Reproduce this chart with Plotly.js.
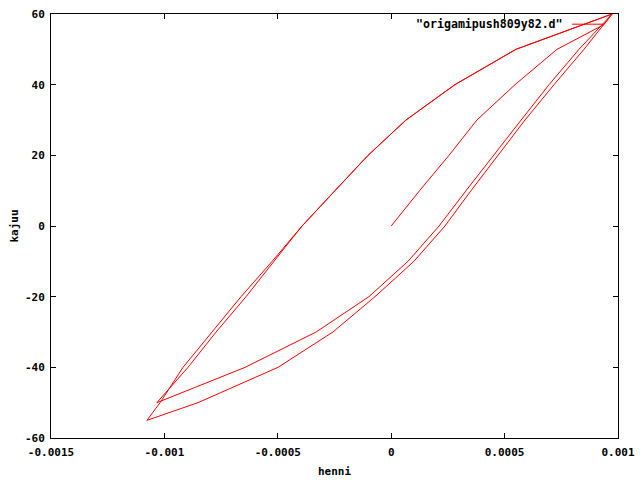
<!DOCTYPE html>
<html>
<head>
<meta charset="utf-8">
<script src="https://cdn.plot.ly/plotly-3.0.1.min.js"></script>
<style>html,body{margin:0;padding:0;background:#fff;}#chart{width:640px;height:480px;}</style>
</head>
<body>
<div id="chart"></div>
<script>
// Initial loading
const loadX = [0, 0.000125, 0.000255, 0.000378, 0.000546, 0.000731, 0.000938, 0.000974];
const loadY = [0, 10, 20, 30, 40, 50, 57, 60];
// First unloading (to -50)
const unload1X = [0.000974, 0.00055, 0.000281, 0.0000653, -0.000102, -0.000248, -0.000393, -0.000517, -0.00064, -0.000772, -0.000896, -0.001033];
const unload1Y = [60, 50, 40, 30, 20, 10, 0, -10, -20, -30, -40, -50];
// First reloading (from -50)
const reload1X = [-0.001033, -0.000644, -0.000331, -0.000098, 0.000074, 0.000211, 0.00033, 0.00045, 0.000573, 0.000696, 0.000828, 0.000974];
const reload1Y = [-50, -40, -30, -20, -10, 0, 10, 20, 30, 40, 50, 60];
// Second unloading (to -55)
const unload2X = [0.000974, 0.00055, 0.000281, 0.0000653, -0.000102, -0.000248, -0.000393, -0.000525, -0.000662, -0.00079, -0.000918, -0.001019, -0.001077];
const unload2Y = [60, 50, 40, 30, 20, 10, 0, -10, -20, -30, -40, -50, -55];
// Second reloading (from -55)
const reload2X = [-0.001077, -0.000852, -0.000499, -0.000257, -0.0000714, 0.0001, 0.000237, 0.000352, 0.000471, 0.00059, 0.000718, 0.00085, 0.000974];
const reload2Y = [-55, -50, -40, -30, -20, -10, 0, 10, 20, 30, 40, 50, 60];

const xTickVals = [-0.0015, -0.001, -0.0005, 0, 0.0005, 0.001];
const xTickText = ["-0.0015", "-0.001", "-0.0005", "0", "0.0005", "0.001"];
const yTickVals = [-60, -40, -20, 0, 20, 40, 60];
const yTickText = ["-60", "-40", "-20", "0", "20", "40", "60"];
const seriesName = '"origamipush809y82.d"';

const xs = [].concat(loadX, unload1X, reload1X, unload2X, reload2X);
const ys = [].concat(loadY, unload1Y, reload1Y, unload2Y, reload2Y);

const font = {family: '"DejaVu Sans Mono", monospace', size: 11, color: '#000', weight: 'bold'};
const legendFont = Object.assign({}, font, {size: 11.6});

const trace = {
  x: xs, y: ys, type: 'scatter', mode: 'lines',
  line: {color: '#ff0000', width: 1},
  name: seriesName, showlegend: false, hoverinfo: 'skip'
};

const axisCommon = {
  showline: true, mirror: 'ticks', linecolor: '#000', linewidth: 1,
  ticks: 'inside', ticklen: 5, tickcolor: '#000', tickwidth: 1,
  showgrid: false, zeroline: false, tickfont: font
};

const layout = {
  width: 640, height: 480,
  margin: {l: 51, r: 22, t: 14, b: 42, pad: 0},
  paper_bgcolor: '#fff', plot_bgcolor: '#fff',
  font: font,
  xaxis: Object.assign({}, axisCommon, {
    range: [-0.0015, 0.001], tickmode: 'array', tickvals: xTickVals, ticktext: xTickText,
    ticklabelstandoff: 4,
    title: {text: 'henni', font: font, standoff: 9}
  }),
  yaxis: Object.assign({}, axisCommon, {
    range: [-60, 60], tickmode: 'array', tickvals: yTickVals, ticktext: yTickText,
    ticklabelstandoff: 3,
    title: {text: 'kajuu', font: font, standoff: 4}
  }),
  annotations: [{
    xref: 'paper', yref: 'paper', x: 0.9065, y: 0.976, xanchor: 'right', yanchor: 'middle',
    text: seriesName, showarrow: false, font: legendFont
  }],
  shapes: [{
    type: 'line', xref: 'paper', yref: 'paper', x0: 0.9189, x1: 0.9753, y0: 0.976, y1: 0.976,
    line: {color: '#ff0000', width: 1}
  }]
};

Plotly.newPlot('chart', [trace], layout, {displayModeBar: false, staticPlot: true});
</script>
</body>
</html>
